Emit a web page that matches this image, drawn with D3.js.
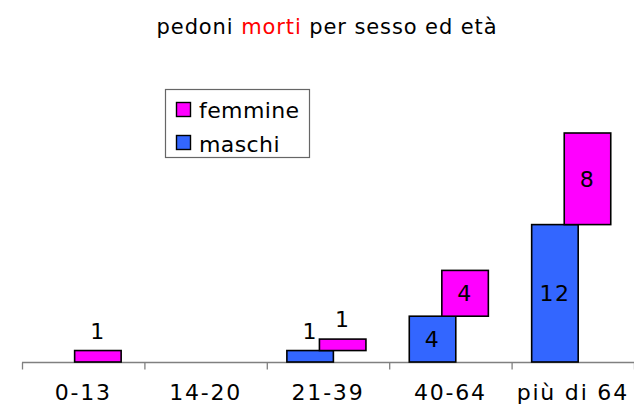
<!DOCTYPE html>
<html><head><meta charset="utf-8">
<script src="https://cdn.jsdelivr.net/npm/d3@7"></script>
<style>body{margin:0;background:#fff}svg{display:block}text{font-family:"DejaVu Sans",Verdana,sans-serif}</style>
</head><body><svg id="c" width="634" height="409"></svg>
<script>
const categories = ["0-13","14-20","21-39","40-64","più di 64"];
const maschi = [0,0,1,4,12];
const femmine = [1,0,1,4,8];
const seriesNames = ["maschi","femmine"];
const seriesColors = {maschi:"#3366FF", femmine:"#FF00FF"};
const yMax = 20;

const svg = d3.select("#c");
const x = d3.scaleBand().domain(categories).range([22,634]);
const y = d3.scaleLinear().domain([0,yMax]).range([362,133]);
const bw = x.bandwidth();
const offs = {maschi:0.164, femmine:0.43};
const barW = bw*0.38;

const rows = categories.map((c,i)=>({cat:c, maschi:maschi[i], femmine:femmine[i]}));
const stacked = d3.stack().keys(seriesNames)(rows);

// axis line + ticks at category boundaries
const xi = d3.scaleLinear().domain([0,categories.length]).range([22,634]);
const ax = svg.append("g").attr("transform","translate(0,362)")
  .call(d3.axisBottom(xi).tickValues(d3.range(categories.length+1)).tickSize(7).tickSizeOuter(0).tickFormat(""));
ax.selectAll("path,line").attr("stroke","#808080").attr("stroke-width",1.3);
ax.select("path").attr("d","M22,0.5H634");
ax.selectAll(".tick line").attr("transform","translate(0,0.5)");

const lab = svg.append("g").attr("transform","translate(0,362)")
  .call(d3.axisBottom(x).tickSize(0).tickPadding(0));
lab.select(".domain").remove();
lab.selectAll("text").attr("font-size",22).attr("letter-spacing",1.8).attr("fill","#000").attr("dy",0).attr("y",38)
  .attr("font-family","DejaVu Sans");

// bars
stacked.forEach(s=>{
  const key = s.key;
  const g = svg.append("g");
  s.forEach(d=>{
    const v = d.data[key];
    if(!v) return;
    const x0 = x(d.data.cat) + bw*offs[key];
    const yt = y(d[1]), yb = y(d[0]);
    g.append("rect").attr("x",x0).attr("y",yt).attr("width",barW).attr("height",yb-yt)
      .attr("fill",seriesColors[key]).attr("stroke","#000").attr("stroke-width",1.6);
    const inside = (yb-yt) > 30;
    g.append("text").attr("x",x0+barW/2)
      .attr("y", inside ? (yt+yb)/2 + 8 : yt-12)
      .attr("text-anchor","middle").attr("font-size",22).attr("letter-spacing",1.5).attr("fill","#000").text(v);
  });
});

// title
const t = svg.append("text").attr("x",327).attr("y",34).attr("text-anchor","middle").attr("font-size",21).attr("letter-spacing",0.9).attr("fill","#000");
t.append("tspan").text("pedoni ");
t.append("tspan").attr("fill","#FF0000").text("morti");
t.append("tspan").text(" per sesso ed età");

// legend
const lg = svg.append("g");
lg.append("rect").attr("x",165.5).attr("y",89.5).attr("width",144).attr("height",68).attr("fill","#fff").attr("stroke","#666").attr("stroke-width",1.2);
["femmine","maschi"].forEach((k,i)=>{
  lg.append("rect").attr("x",176.5).attr("y",102.5+i*33).attr("width",14).attr("height",14)
    .attr("fill",seriesColors[k]).attr("stroke","#000").attr("stroke-width",1.4);
  lg.append("text").attr("x",199).attr("y",118+i*34).attr("font-size",22).attr("letter-spacing",0.4).attr("fill","#000").text(k);
});
</script></body></html>
